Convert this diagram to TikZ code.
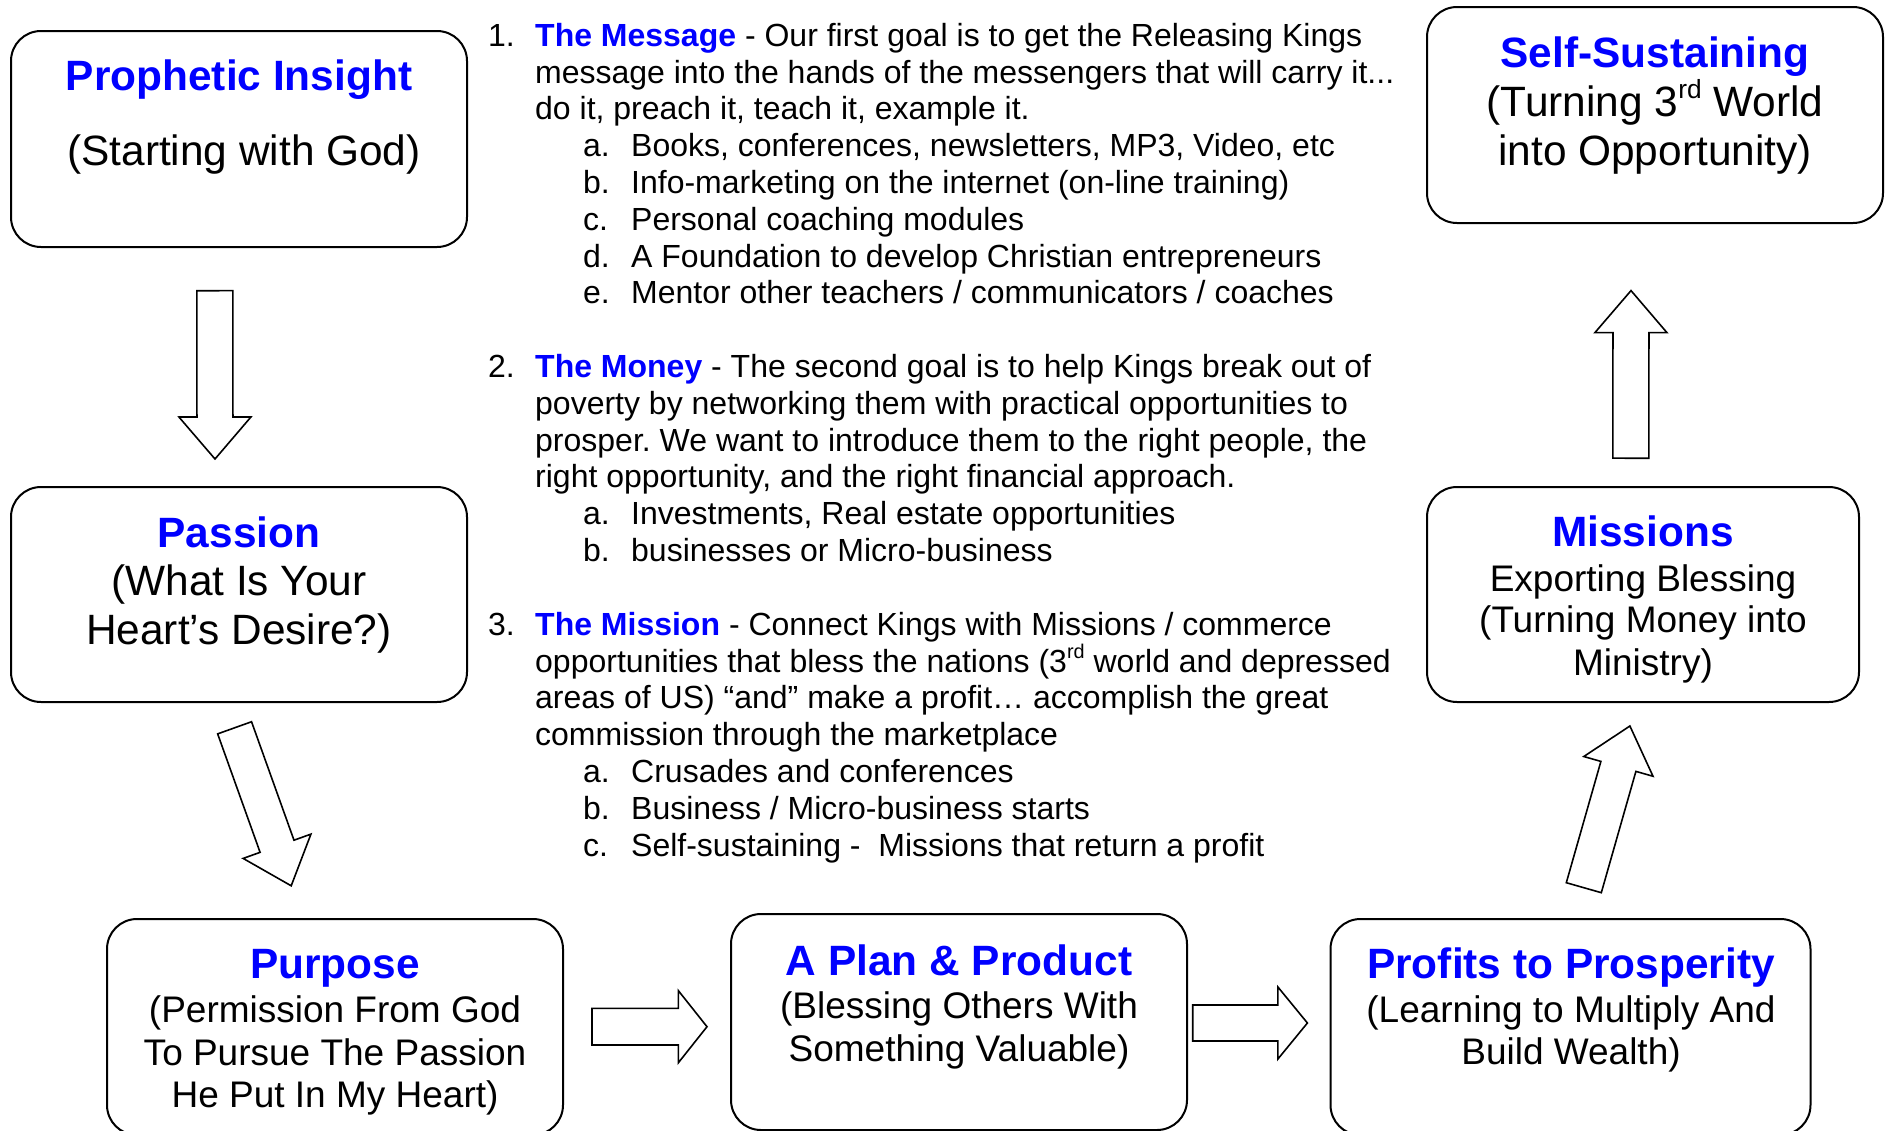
\documentclass[tikz,border=0pt]{standalone}
\usepackage{fontspec}
\setmainfont{Liberation Sans}
\usetikzlibrary{calc}
\definecolor{tblue}{RGB}{0,0,255}
\frenchspacing
\newcommand\lnum[1]{\makebox[47pt][l]{#1}}
\newcommand\llet[1]{\makebox[48pt][l]{#1}}
\newcommand\supr[1]{\raisebox{0.78ex}{\scalebox{0.62}{#1}}}
% #1 name, #2 tail coordinate, #3 tip coordinate, #4 shaft half width, #5 head half width, #6 head length
\newcommand\blockarrow[6]{%
  \coordinate (#1-b) at ($(#3)!#6!(#2)$);
  \draw[barrow] ($(#2)!#4!90:(#3)$) -- ($(#1-b)!#4!90:(#3)$) -- ($(#1-b)!#5!90:(#3)$) -- (#3)
    -- ($(#1-b)!#5!-90:(#3)$) -- ($(#1-b)!#4!-90:(#3)$) -- ($(#2)!#4!-90:(#3)$) -- cycle;
}
\begin{document}
\begin{tikzpicture}[x=1pt,y=-1pt,
  box/.style={draw, line width=2pt, rounded corners=30pt, inner sep=0pt},
  ttl/.style={anchor=base, inner sep=0pt, text=tblue, font=\fontsize{42.4}{48.8}\selectfont\bfseries},
  bodyL/.style={anchor=base, inner sep=0pt, font=\fontsize{42.4}{48.8}\selectfont},
  bodyS/.style={anchor=base, inner sep=0pt, font=\fontsize{37}{42.5}\selectfont},
  lst/.style={anchor=base west, inner sep=0pt, font=\fontsize{32}{36.8}\selectfont},
  barrow/.style={draw, line width=1.6pt, fill=white, line join=miter}]
\useasboundingbox (0,0) rectangle (1885,1130);
\fill[white] (0,0) rectangle (1885,1130);

% boxes
\node[box, minimum width=456pt, minimum height=216pt] (pi) at (239,139) {};
\node[box, minimum width=456pt, minimum height=215pt] (pa) at (239,594.5) {};
\node[box, minimum width=456pt, minimum height=216pt] (pu) at (335,1027) {};
\node[box, minimum width=456pt, minimum height=216pt] (pp) at (959,1022) {};
\node[box, minimum width=480pt, minimum height=216pt] (pr) at (1570.5,1027) {};
\node[box, minimum width=432pt, minimum height=215pt] (mi) at (1643,594.5) {};
\node[box, minimum width=456pt, minimum height=216pt] (ss) at (1655,115) {};

% box texts
\node[ttl] (pi-t) at (239,90.7) {Prophetic Insight};
\node[bodyL] (pi-1) at (244,165) {(Starting with God)};

\node[ttl] (pa-t) at (239,547) {Passion};
\node[bodyL] (pa-1) at (239,595.4) {(What Is Your};
\node[bodyL] (pa-2) at (239,644.5) {Heart’s Desire?)};

\node[ttl] (pu-t) at (335,978.4) {Purpose};
\node[bodyS] (pu-1) at (335,1022.6) {(Permission From God};
\node[bodyS] (pu-2) at (335,1065.5) {To Pursue The Passion};
\node[bodyS] (pu-3) at (335,1107.6) {He Put In My Heart)};

\node[ttl] (pp-t) at (959,975) {A Plan \& Product};
\node[bodyS] (pp-1) at (959,1018.3) {(Blessing Others With};
\node[bodyS] (pp-2) at (959,1061) {Something Valuable)};

\node[ttl] (pr-t) at (1571,978.3) {Profits to Prosperity};
\node[bodyS] (pr-1) at (1571,1022.7) {(Learning to Multiply And};
\node[bodyS] (pr-2) at (1571,1064.3) {Build Wealth)};

\node[ttl] (mi-t) at (1643,546.5) {Missions};
\node[bodyS] (mi-1) at (1643,591.4) {Exporting Blessing};
\node[bodyS] (mi-2) at (1643,632.7) {(Turning Money into};
\node[bodyS] (mi-3) at (1643,675) {Ministry)};

\node[ttl] (ss-t) at (1655,67.5) {Self-Sustaining};
\node[bodyL] (ss-1) at (1655,116) {(Turning 3\supr{rd} World};
\node[bodyL] (ss-2) at (1655,165) {into Opportunity)};

% arrows
\coordinate (a1t) at (214.8,290.7); \coordinate (a1p) at (215,459);
\coordinate (a2t) at (234.6,727.8); \coordinate (a2p) at (291.2,885.8);
\coordinate (a3t) at (592,1026.7);  \coordinate (a3p) at (707,1026.7);
\coordinate (a4t) at (1192.7,1023); \coordinate (a4p) at (1307.4,1023);
\coordinate (a5t) at (1583.8,887.7); \coordinate (a5p) at (1629.9,726);
\coordinate (a6t) at (1630.8,458.2); \coordinate (a6p) at (1631,290.6);
\blockarrow{a1}{a1t}{a1p}{18pt}{36pt}{42pt}
\blockarrow{a2}{a2t}{a2p}{18pt}{36pt}{42pt}
\blockarrow{a3}{a3t}{a3p}{18.3pt}{36pt}{28.6pt}
\blockarrow{a4}{a4t}{a4p}{18pt}{36pt}{29.5pt}
\blockarrow{a5}{a5t}{a5p}{18.2pt}{36pt}{42pt}
\blockarrow{a6}{a6t}{a6p}{18pt}{36pt}{42pt}

% list section 1
\node[lst] (m1) at (488,46.3) {\lnum{1.}\textcolor{tblue}{\bfseries The Message} - Our first goal is to get the Releasing Kings};
\node[lst] (m2) at (535,83.1) {message into the hands of the messengers that will carry it...};
\node[lst] (m3) at (535,119.9) {do it, preach it, teach it, example it.};
\node[lst] (m4) at (583,156.7) {\llet{a.}Books, conferences, newsletters, MP3, Video, etc};
\node[lst] (m5) at (583,193.5) {\llet{b.}Info-marketing on the internet (on-line training)};
\node[lst] (m6) at (583,230.3) {\llet{c.}Personal coaching modules};
\node[lst] (m7) at (583,267.1) {\llet{d.}A Foundation to develop Christian entrepreneurs};
\node[lst] (m8) at (583,303.9) {\llet{e.}Mentor other teachers / communicators / coaches};

% list section 2
\node[lst] (n1) at (488,377.5) {\lnum{2.}\textcolor{tblue}{\bfseries The Money} - The second goal is to help Kings break out of};
\node[lst] (n2) at (535,414.3) {poverty by networking them with practical opportunities to};
\node[lst] (n3) at (535,451.1) {prosper. We want to introduce them to the right people, the};
\node[lst] (n4) at (535,487.9) {right opportunity, and the right financial approach.};
\node[lst] (n5) at (583,524.7) {\llet{a.}Investments, Real estate opportunities};
\node[lst] (n6) at (583,561.5) {\llet{b.}businesses or Micro-business};

% list section 3
\node[lst] (o1) at (488,635.1) {\lnum{3.}\textcolor{tblue}{\bfseries The Mission} - Connect Kings with Missions / commerce};
\node[lst] (o2) at (535,672) {opportunities that bless the nations (3\supr{rd} world and depressed};
\node[lst] (o3) at (535,708.8) {areas of US) “and” make a profit… accomplish the great};
\node[lst] (o4) at (535,745.6) {commission through the marketplace};
\node[lst] (o5) at (583,782.4) {\llet{a.}Crusades and conferences};
\node[lst] (o6) at (583,819.2) {\llet{b.}Business / Micro-business starts};
\node[lst] (o7) at (583,856) {\llet{c.}Self-sustaining -\ \ Missions that return a profit};
\end{tikzpicture}
\end{document}
